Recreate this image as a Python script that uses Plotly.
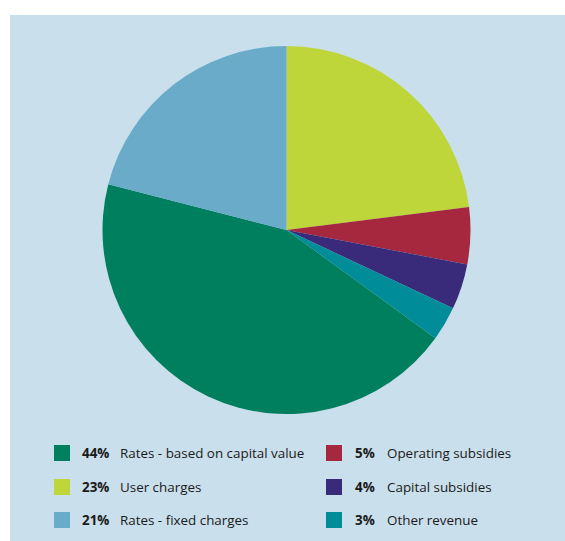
import plotly.graph_objects as go

W, H = 565, 541

# Data (pie order, clockwise from 12 o'clock)
labels = ["User charges", "Operating subsidies", "Capital subsidies", "Other revenue",
          "Rates - based on capital value", "Rates - fixed charges"]
values = [23, 5, 4, 3, 44, 21]
colors = ["#bfd63a", "#a6283f", "#3a2a7a", "#008c98", "#007f5f", "#6aabc9"]

# Legend order (two columns)
legend_col1 = ["Rates - based on capital value", "User charges", "Rates - fixed charges"]
legend_col2 = ["Operating subsidies", "Capital subsidies", "Other revenue"]

BG = "#c9dfeb"

fig = go.Figure()
fig.add_trace(go.Pie(
    labels=labels, values=values, sort=False, direction="clockwise", rotation=0,
    marker=dict(colors=colors, line=dict(width=0)),
    textinfo="none", hoverinfo="label+percent", showlegend=False,
    domain=dict(x=[102 / W, 471 / W], y=[1 - 414 / H, 1 - 46 / H]),
))

def px(x):
    return x / W

def py(y):
    return 1 - y / H

shapes = [dict(type="rect", xref="paper", yref="paper", x0=px(10), x1=1.0, y0=0, y1=py(15),
               fillcolor=BG, line=dict(width=0), layer="below")]
annotations = []
row_y = [453, 487, 520]
lookup = dict(zip(labels, zip(values, colors)))
FS = 13.4
for col, (items, mx, pctx, labx) in enumerate([(legend_col1, 54, 80, 118), (legend_col2, 326, 353, 385)]):
    for i, name in enumerate(items):
        v, c = lookup[name]
        y = row_y[i]
        shapes.append(dict(type="rect", xref="paper", yref="paper",
                           x0=px(mx), x1=px(mx + 16), y0=py(y + 8), y1=py(y - 8),
                           fillcolor=c, line=dict(width=0)))
        annotations.append(dict(x=px(pctx), y=py(y), xref="paper", yref="paper",
                                text=f"<b>{v}%</b>", showarrow=False, xanchor="left", yanchor="middle",
                                font=dict(size=FS, color="#1a1a1a", family="Open Sans")))
        annotations.append(dict(x=px(labx), y=py(y), xref="paper", yref="paper",
                                text=name, showarrow=False, xanchor="left", yanchor="middle",
                                font=dict(size=FS, color="#1a1a1a", family="Open Sans")))

fig.update_layout(
    width=W, height=H, margin=dict(l=0, r=0, t=0, b=0),
    paper_bgcolor="white", plot_bgcolor="white",
    shapes=shapes, annotations=annotations,
)
fig.write_html("out.html")
